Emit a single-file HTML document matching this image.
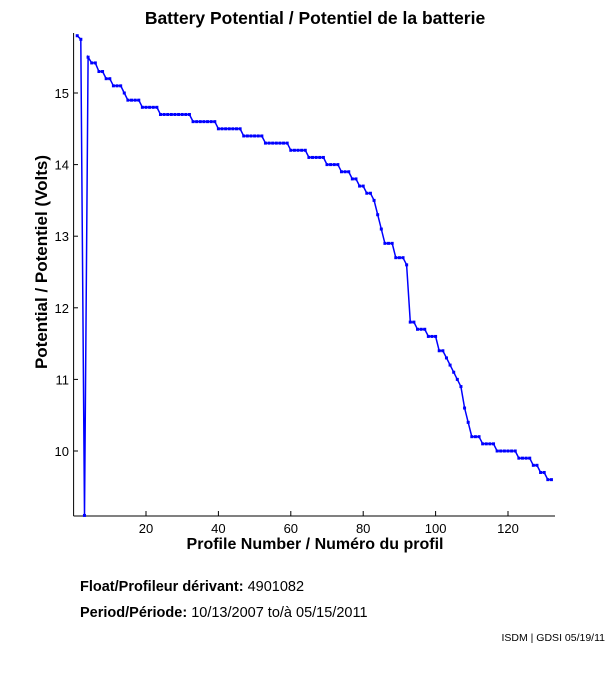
<!DOCTYPE html>
<html><head><meta charset="utf-8"><style>
body{margin:0;background:#fff;width:611px;height:675px;overflow:hidden}
svg{display:block;font-family:"Liberation Sans",sans-serif}
</style></head><body>
<svg id="s" width="611" height="675" xmlns="http://www.w3.org/2000/svg">
<text x="315" y="24" text-anchor="middle" font-size="17.5" font-weight="bold">Battery Potential / Potentiel de la batterie</text>
<line x1="73.6" y1="33" x2="73.6" y2="516" stroke="#000"/>
<line x1="73.6" y1="516" x2="555" y2="516" stroke="#000"/>
<g id="ticks" font-size="13"></g>
<polyline id="pl" fill="none" stroke="#0000ff" stroke-width="1.5"/>
<g id="mk" fill="#0000ff"></g>
<text x="315" y="549" text-anchor="middle" font-size="16" font-weight="bold">Profile Number / Numéro du profil</text>
<text transform="translate(47,262) rotate(-90)" text-anchor="middle" font-size="17" font-weight="bold">Potential / Potentiel (Volts)</text>
<text x="80" y="591" font-size="14.5"><tspan font-weight="bold">Float/Profileur dérivant:</tspan> 4901082</text>
<text x="80" y="617" font-size="14.5"><tspan font-weight="bold">Period/Période:</tspan> 10/13/2007 to/à 05/15/2011</text>
<text x="605" y="641" text-anchor="end" font-size="10.5">ISDM | GDSI 05/19/11</text>
</svg>
<script>
var X=function(i){return 73.6+i*3.62},Y=function(v){return 93+(15-v)*71.6};
var t=document.getElementById('ticks'),h='';
for(var v=10;v<=15;v++){h+='<line x1="73.6" x2="78" y1="'+Y(v)+'" y2="'+Y(v)+'" stroke="#000"/><text x="69" y="'+(Y(v)+5)+'" text-anchor="end">'+v+'</text>';}
for(var i=20;i<=120;i+=20){h+='<line x1="'+X(i)+'" x2="'+X(i)+'" y1="516" y2="511" stroke="#000"/><text x="'+X(i)+'" y="533" text-anchor="middle">'+i+'</text>';}
t.innerHTML=h;
var segs=[[1,1,15.8],[2,2,15.75],[3,3,9.1],[4,4,15.5],[5,6,15.42],[7,8,15.3],[9,10,15.2],[11,13,15.1],[14,14,15.0],[15,18,14.9],[19,23,14.8],[24,32,14.7],[33,39,14.6],[40,46,14.5],[47,52,14.4],[53,59,14.3],[60,64,14.2],[65,69,14.1],[70,73,14.0],[74,76,13.9],[77,78,13.8],[79,80,13.7],[81,82,13.6],[83,83,13.5],[84,84,13.3],[85,85,13.1],[86,88,12.9],[89,91,12.7],[92,92,12.6],[93,94,11.8],[95,97,11.7],[98,100,11.6],[101,102,11.4],[103,103,11.3],[104,104,11.2],[105,105,11.1],[106,106,11.0],[107,107,10.9],[108,108,10.6],[109,109,10.4],[110,112,10.2],[113,116,10.1],[117,122,10.0],[123,126,9.9],[127,128,9.8],[129,130,9.7],[131,132,9.6]];
var pts=[],m='';
segs.forEach(function(s){for(var i=s[0];i<=s[1];i++){var x=X(i),y=Y(s[2]);pts.push(x.toFixed(1)+','+y.toFixed(1));m+='<rect x="'+(x-1.5)+'" y="'+(y-1.5)+'" width="3" height="3"/>';}});
document.getElementById('pl').setAttribute('points',pts.join(' '));
document.getElementById('mk').innerHTML=m;
</script>
</body></html>
